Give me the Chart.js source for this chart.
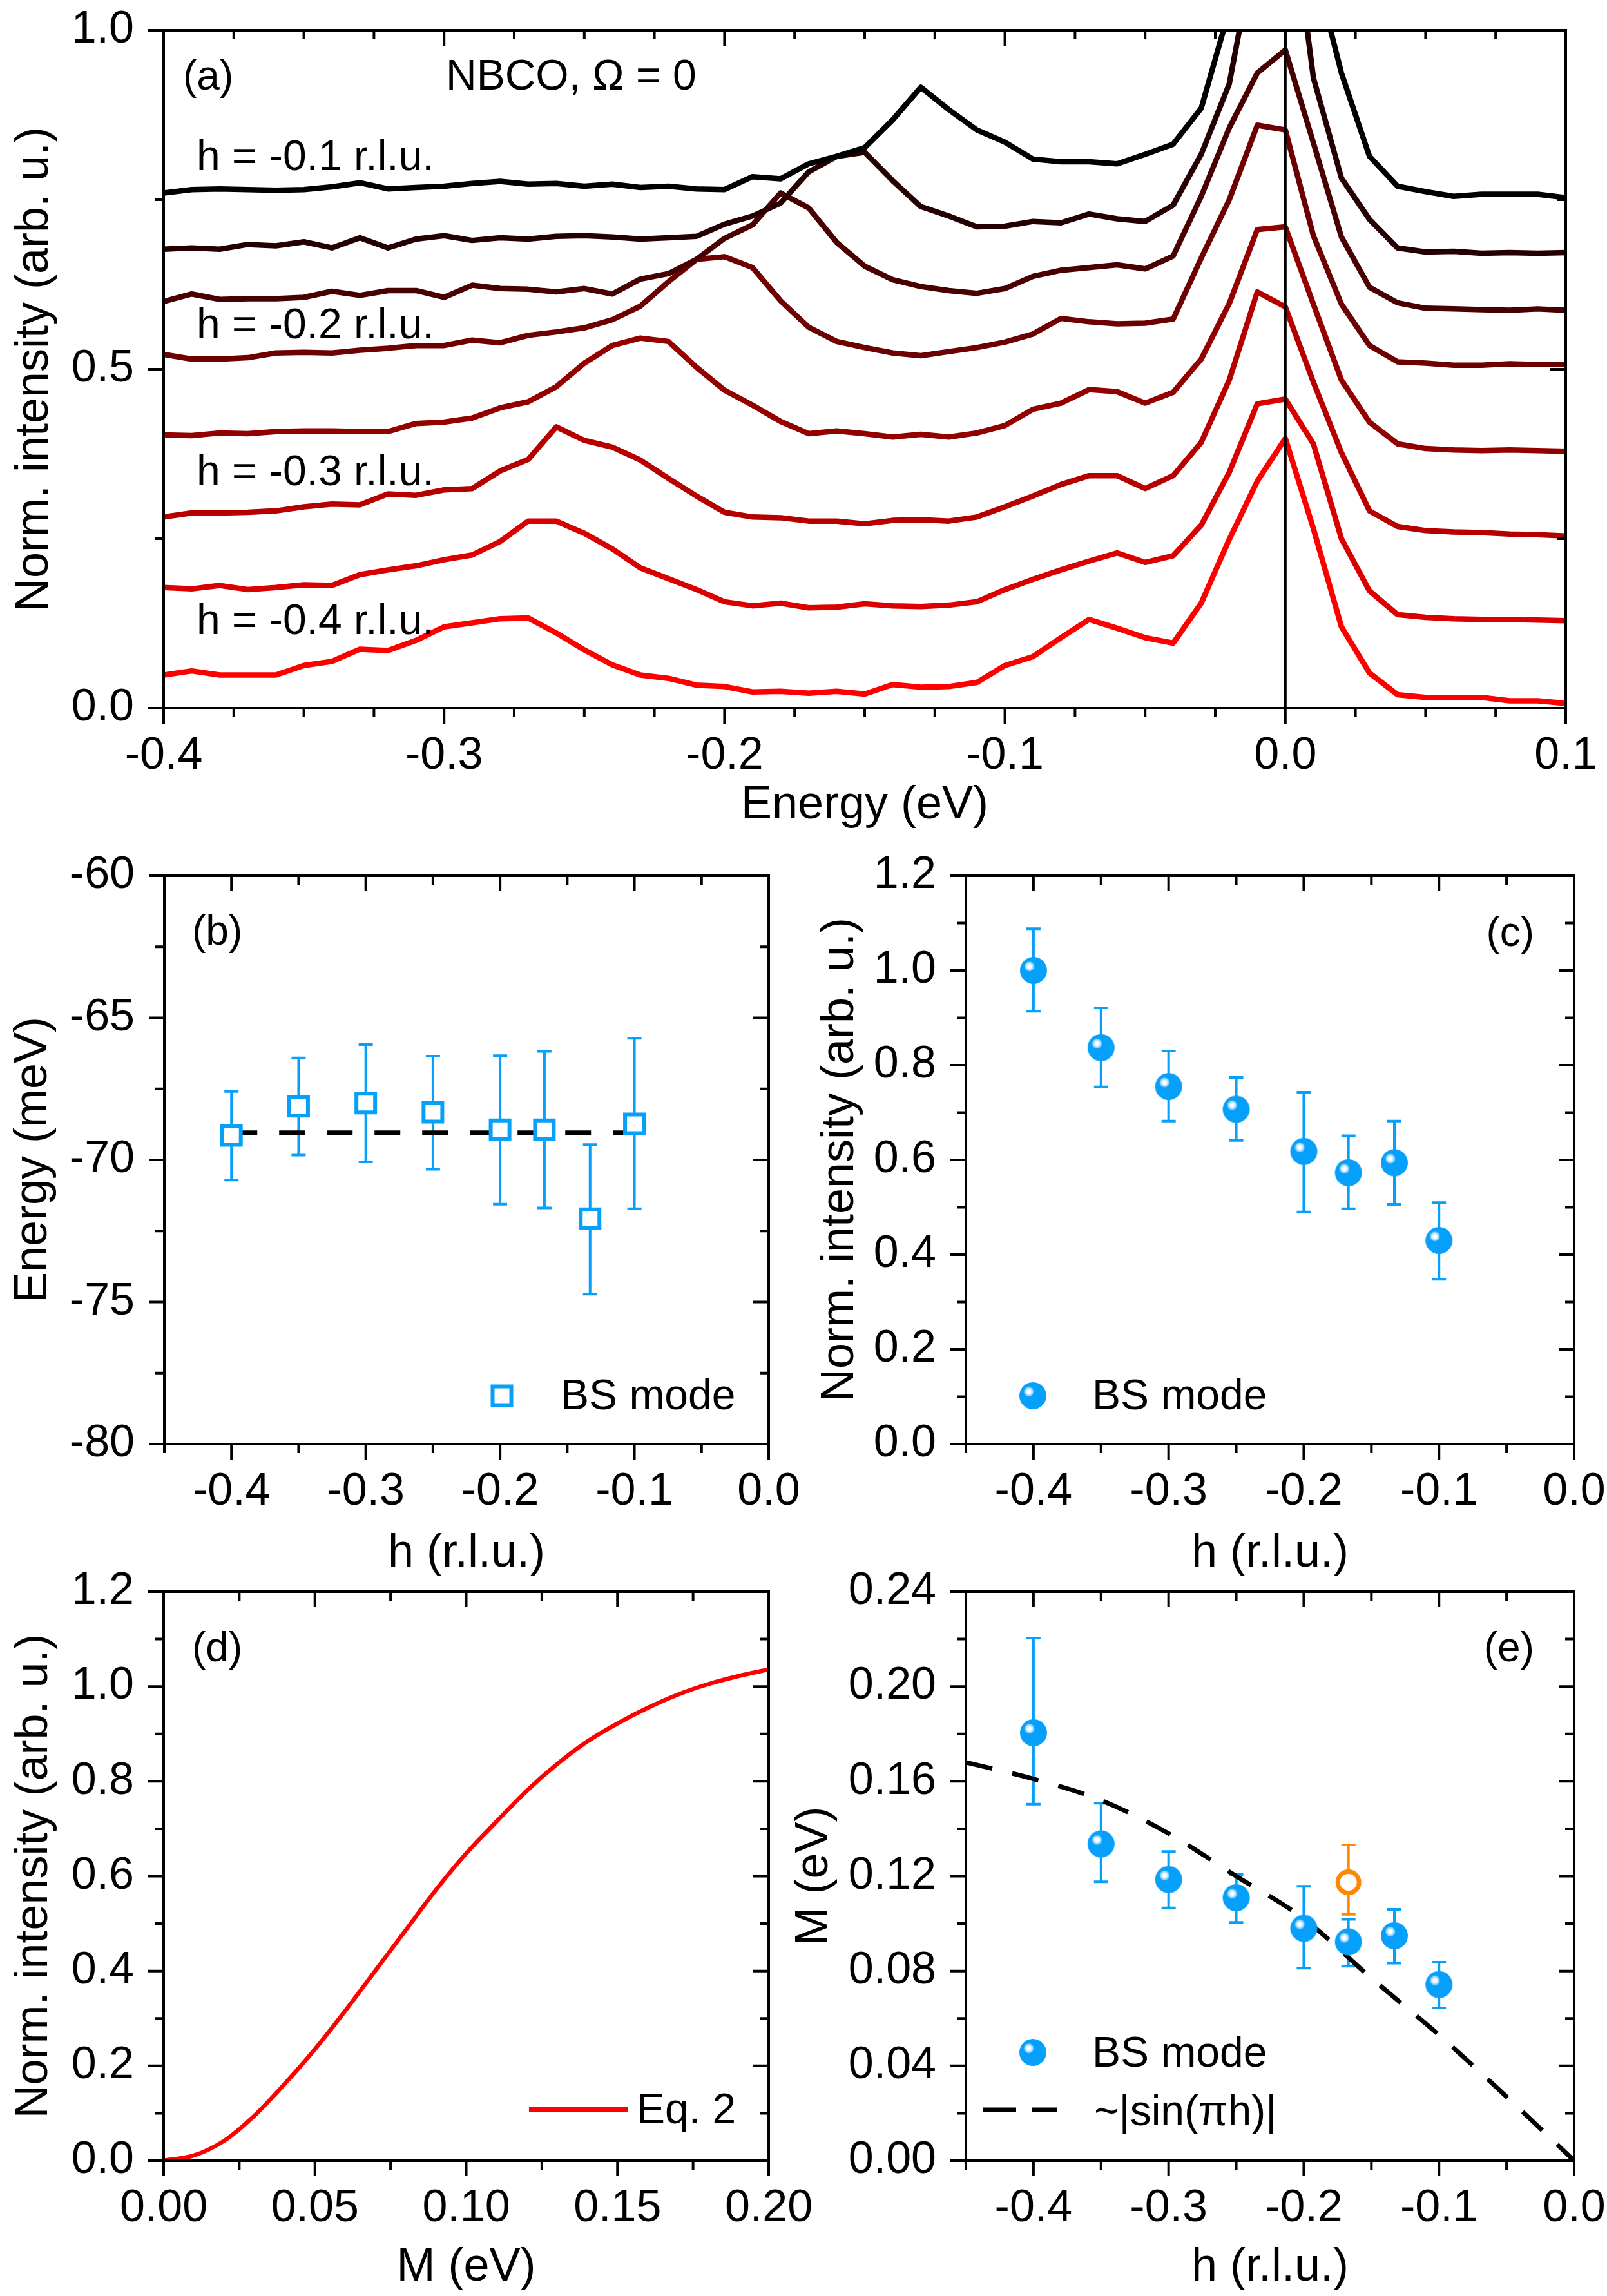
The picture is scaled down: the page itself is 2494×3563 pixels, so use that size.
<!DOCTYPE html>
<html>
<head>
<meta charset="utf-8">
<title>NBCO RIXS - BS mode</title>
<script src="https://cdn.jsdelivr.net/npm/chart.js@4.4.1/dist/chart.umd.min.js"></script>
<style>
  html, body { margin: 0; background: #fff; }
  #fig { position: relative; width: 2494px; height: 3563px; overflow: hidden; background: #fff; }
  #fig canvas { position: absolute; }
</style>
</head>
<body>
<div id="fig">
  <canvas id="panelA" width="2494" height="1310" style="left:0;top:0"></canvas>
  <canvas id="panelB" width="1300" height="1180" style="left:0;top:1300px"></canvas>
  <canvas id="panelC" width="1294" height="1180" style="left:1200px;top:1300px"></canvas>
  <canvas id="panelD" width="1300" height="1163" style="left:0;top:2400px"></canvas>
  <canvas id="panelE" width="1294" height="1163" style="left:1200px;top:2400px"></canvas>
</div>
<script>
// ---- (a) spectra, one array per momentum ----
const energyEv = [-0.40,-0.39,-0.38,-0.37,-0.36,-0.35,-0.34,-0.33,-0.32,-0.31,
  -0.30,-0.29,-0.28,-0.27,-0.26,-0.25,-0.24,-0.23,-0.22,-0.21,
  -0.20,-0.19,-0.18,-0.17,-0.16,-0.15,-0.14,-0.13,-0.12,-0.11,
  -0.10,-0.09,-0.08,-0.07,-0.06,-0.05,-0.04,-0.03,-0.02,-0.01,
  0.00,0.01,0.02,0.03,0.04,0.05,0.06,0.07,0.08,0.09,0.10];

const specH010 = [0.760,0.765,0.766,0.765,0.764,0.765,0.769,0.775,0.766,0.768,
  0.770,0.774,0.777,0.773,0.774,0.770,0.773,0.768,0.770,0.766,
  0.765,0.784,0.781,0.803,0.814,0.827,0.868,0.916,0.883,0.853,
  0.835,0.810,0.806,0.806,0.803,0.817,0.832,0.885,1.030,1.400,
  1.500,1.100,0.937,0.814,0.770,0.762,0.755,0.758,0.758,0.758,0.753];
const specH013 = [0.677,0.679,0.677,0.684,0.682,0.688,0.679,0.694,0.679,0.692,
  0.697,0.690,0.694,0.692,0.696,0.697,0.695,0.692,0.694,0.696,
  0.714,0.726,0.745,0.791,0.814,0.820,0.778,0.740,0.726,0.710,
  0.711,0.718,0.716,0.729,0.722,0.718,0.742,0.817,0.921,1.140,
  1.250,0.930,0.782,0.721,0.679,0.673,0.674,0.671,0.672,0.671,0.672];
const specH017 = [0.600,0.611,0.603,0.604,0.604,0.606,0.615,0.609,0.616,0.616,
  0.606,0.624,0.619,0.618,0.614,0.619,0.611,0.633,0.641,0.662,
  0.693,0.713,0.760,0.738,0.687,0.652,0.632,0.622,0.616,0.612,
  0.619,0.637,0.646,0.650,0.654,0.648,0.667,0.755,0.856,0.937,
  0.971,0.834,0.695,0.621,0.598,0.590,0.589,0.588,0.587,0.589,0.587];
const specH020 = [0.522,0.515,0.515,0.517,0.524,0.525,0.524,0.528,0.531,0.535,
  0.535,0.543,0.539,0.550,0.555,0.561,0.573,0.593,0.629,0.662,
  0.666,0.650,0.601,0.562,0.541,0.532,0.524,0.520,0.526,0.532,
  0.540,0.552,0.575,0.570,0.567,0.568,0.574,0.664,0.750,0.860,
  0.853,0.697,0.596,0.535,0.511,0.509,0.506,0.506,0.508,0.507,0.507];
const specH025 = [0.403,0.402,0.406,0.405,0.408,0.409,0.409,0.408,0.408,0.420,
  0.422,0.428,0.443,0.452,0.474,0.509,0.535,0.546,0.541,0.503,
  0.469,0.447,0.423,0.405,0.409,0.405,0.400,0.404,0.400,0.406,
  0.417,0.441,0.450,0.470,0.467,0.450,0.466,0.515,0.597,0.706,
  0.710,0.596,0.484,0.422,0.390,0.383,0.381,0.380,0.381,0.380,0.379];
const specH030 = [0.282,0.288,0.288,0.289,0.291,0.297,0.301,0.300,0.316,0.314,
  0.322,0.324,0.350,0.367,0.415,0.395,0.385,0.366,0.339,0.313,
  0.289,0.282,0.281,0.276,0.276,0.272,0.277,0.278,0.276,0.282,
  0.297,0.313,0.330,0.343,0.343,0.324,0.343,0.392,0.484,0.614,
  0.592,0.481,0.377,0.291,0.268,0.262,0.260,0.259,0.257,0.256,0.254];
const specH035 = [0.178,0.176,0.181,0.175,0.178,0.182,0.181,0.197,0.204,0.210,
  0.219,0.226,0.246,0.276,0.276,0.258,0.235,0.207,0.191,0.175,
  0.157,0.151,0.155,0.148,0.149,0.154,0.151,0.150,0.152,0.157,
  0.175,0.190,0.204,0.217,0.229,0.215,0.225,0.270,0.348,0.449,
  0.456,0.390,0.250,0.173,0.138,0.134,0.132,0.131,0.131,0.130,0.129];
const specH040 = [0.049,0.055,0.049,0.049,0.049,0.063,0.069,0.087,0.085,0.100,
  0.120,0.126,0.132,0.133,0.111,0.086,0.064,0.049,0.044,0.034,
  0.032,0.024,0.025,0.022,0.025,0.021,0.035,0.031,0.032,0.038,
  0.063,0.076,0.104,0.131,0.118,0.104,0.096,0.155,0.249,0.335,
  0.398,0.265,0.120,0.052,0.020,0.016,0.016,0.016,0.011,0.011,0.007];
const spectra = [specH010, specH013, specH017, specH020, specH025, specH030, specH035, specH040];
const spectrumColors = ['#000000','#240000','#490000','#6d0000','#920000','#b60000','#db0000','#ff0000'];

// ---- (b), (c), (e) BS mode vs h ----
const hValues = [-0.4, -0.35, -0.3, -0.25, -0.2, -0.167, -0.133, -0.1];
const bsEnergy   = [-69.14, -68.11, -68.00, -68.32, -68.94, -68.94, -72.07, -68.73];
const bsEnergyHi = [-67.59, -66.41, -65.94, -66.35, -66.33, -66.18, -69.46, -65.72];
const bsEnergyLo = [-70.71, -69.83, -70.07, -70.33, -71.56, -71.69, -74.72, -71.72];
const fitH = [-0.4, -0.1];
const fitEnergy = [-69.04, -69.04];

const bsIntensity   = [1.000, 0.837, 0.755, 0.707, 0.618, 0.573, 0.594, 0.430];
const bsIntensityHi = [1.088, 0.921, 0.830, 0.774, 0.743, 0.651, 0.682, 0.510];
const bsIntensityLo = [0.914, 0.754, 0.682, 0.641, 0.490, 0.497, 0.506, 0.348];

const bsM   = [0.1805, 0.1336, 0.1186, 0.1109, 0.0980, 0.0923, 0.0949, 0.0743];
const bsMHi = [0.2204, 0.1508, 0.1304, 0.1207, 0.1157, 0.1018, 0.1060, 0.0837];
const bsMLo = [0.1504, 0.1176, 0.1066, 0.1005, 0.0812, 0.0820, 0.0833, 0.0644];
const extraH = [-0.167];
const extraM = [0.1174];
const extraMHi = [0.1332];
const extraMLo = [0.1039];
const sinH = [-0.45, -0.4, -0.35, -0.3, -0.25, -0.2, -0.15, -0.1, -0.05, 0.0];
const sinM = [0.168, 0.161, 0.152, 0.138, 0.120, 0.102, 0.077, 0.053, 0.027, 0.0];

// ---- (d) Eq. 2 ----
const mGrid = [0.00,0.01,0.02,0.03,0.04,0.05,0.06,0.07,0.08,0.09,0.10,
  0.11,0.12,0.13,0.14,0.15,0.16,0.17,0.18,0.19,0.20];
const eq2Intensity = [0.000,0.011,0.042,0.095,0.162,0.235,0.316,0.401,0.486,0.571,0.648,
  0.715,0.780,0.836,0.884,0.922,0.955,0.983,1.005,1.022,1.036];

// ---- ticks ----
const energyTicks = [-0.4, -0.3, -0.2, -0.1, 0.0, 0.1];
const energyTickLabels = ['-0.4', '-0.3', '-0.2', '-0.1', '0.0', '0.1'];
const energyMinor = [-0.375, -0.35, -0.325, -0.275, -0.25, -0.225, -0.175, -0.15, -0.125,
  -0.075, -0.05, -0.025, 0.025, 0.05, 0.075];
const intensityTicksA = [0, 0.5, 1.0];
const intensityLabelsA = ['0.0', '0.5', '1.0'];
const intensityMinorA = [0.25, 0.75];

const hTicks = [-0.4, -0.3, -0.2, -0.1, 0.0];
const hTickLabels = ['-0.4', '-0.3', '-0.2', '-0.1', '0.0'];
const hMinor = [-0.45, -0.35, -0.25, -0.15, -0.05];
const mevTicks = [-80, -75, -70, -65, -60];
const mevLabels = ['-80', '-75', '-70', '-65', '-60'];
const mevMinor = [-77.5, -72.5, -67.5, -62.5];
const normTicks = [0, 0.2, 0.4, 0.6, 0.8, 1.0, 1.2];
const normLabels = ['0.0', '0.2', '0.4', '0.6', '0.8', '1.0', '1.2'];
const normMinor = [0.1, 0.3, 0.5, 0.7, 0.9, 1.1];
const mTicks = [0, 0.05, 0.10, 0.15, 0.20];
const mLabels = ['0.00', '0.05', '0.10', '0.15', '0.20'];
const mMinor = [0.025, 0.075, 0.125, 0.175];
const mTicksY = [0, 0.04, 0.08, 0.12, 0.16, 0.20, 0.24];
const mLabelsY = ['0.00', '0.04', '0.08', '0.12', '0.16', '0.20', '0.24'];
const mMinorY = [0.02, 0.06, 0.10, 0.14, 0.18, 0.22];

const FONT = '"Liberation Sans", Arial, Helvetica, sans-serif';
const BLUE = '#06a0fb';
const ORANGE = '#ff8800';
Chart.defaults.font.family = FONT;
Chart.defaults.color = '#000';
Chart.defaults.animation = false;

function makeBall(r) {
  const c = document.createElement('canvas');
  const s = Math.ceil(2 * r + 2);
  c.width = s; c.height = s;
  const g = c.getContext('2d');
  const m = s / 2;
  g.fillStyle = BLUE;
  g.beginPath(); g.arc(m, m, r, 0, Math.PI * 2); g.fill();
  const hx = m - 0.3 * r, hy = m - 0.3 * r, hr = 0.42 * r;
  const rg = g.createRadialGradient(hx, hy, 0, hx, hy, hr);
  rg.addColorStop(0, '#ffffff');
  rg.addColorStop(0.3, '#ffffff');
  rg.addColorStop(0.45, '#d4edff');
  rg.addColorStop(0.75, '#8ccfff');
  rg.addColorStop(1, 'rgba(6,160,251,0)');
  g.fillStyle = rg;
  g.beginPath(); g.arc(hx, hy, hr, 0, Math.PI * 2); g.fill();
  return c;
}
const ball = makeBall(21);

function axis(pos, min, max, ticks, labels, title, titlePad, size) {
  const horiz = pos === 'bottom';
  return {
    type: 'linear', position: pos, min: min, max: max, bounds: 'data',
    grid: { display: false, drawTicks: false },
    border: { display: false },
    ticks: {
      padding: horiz ? 40 : 46, autoSkip: false, maxRotation: 0, minRotation: 0,
      color: '#000', font: { size: 70, lineHeight: 1 },
      callback: (v, i) => labels[i]
    },
    title: {
      display: true, text: title, color: '#000', font: { size: 72, lineHeight: 1 },
      padding: horiz ? { top: 0, bottom: titlePad } : { top: titlePad, bottom: 0 }
    },
    afterBuildTicks: s => { s.ticks = ticks.map(v => ({ value: v })); },
    afterFit: s => {
      if (horiz) s.height = size; else s.width = size;
      // keep the plot area where the layout padding puts it
      s.paddingLeft = 0; s.paddingRight = 0; s.paddingTop = 0; s.paddingBottom = 0;
    }
  };
}

function drawKey(ctx, k, cx, cy) {
  ctx.save();
  if (k.kind === 'square') {
    ctx.fillStyle = '#fff'; ctx.strokeStyle = BLUE; ctx.lineWidth = 6;
    ctx.fillRect(cx - 14.5, cy - 14.5, 29, 29);
    ctx.strokeRect(cx - 14.5, cy - 14.5, 29, 29);
  } else if (k.kind === 'ball') {
    ctx.drawImage(ball, cx - ball.width / 2, cy - ball.height / 2);
  } else {
    ctx.strokeStyle = k.color; ctx.lineWidth = k.width;
    ctx.setLineDash(k.dash || []);
    ctx.beginPath(); ctx.moveTo(cx, cy); ctx.lineTo(cx + k.len, cy); ctx.stroke();
  }
  ctx.restore();
}

// frame, ticks on all four sides, error bars, labels and hand-made legend
function decor(spec) {
  return {
    id: 'decor',
    beforeDatasetsDraw(chart) {
      const { ctx, scales: { x, y } } = chart;
      (spec.errors || []).forEach(e => {
        ctx.save();
        ctx.strokeStyle = e.color; ctx.lineWidth = 4;
        ctx.beginPath();
        e.x.forEach((xv, i) => {
          const px = x.getPixelForValue(xv);
          const top = y.getPixelForValue(e.hi[i]);
          const bot = y.getPixelForValue(e.lo[i]);
          ctx.moveTo(px, top); ctx.lineTo(px, bot);
          ctx.moveTo(px - 11, top); ctx.lineTo(px + 11, top);
          ctx.moveTo(px - 11, bot); ctx.lineTo(px + 11, bot);
        });
        ctx.stroke();
        ctx.restore();
      });
    },
    afterDatasetsDraw(chart) {
      if (spec.vline === undefined) return;
      const { ctx, chartArea: a, scales: { x } } = chart;
      const px = x.getPixelForValue(spec.vline);
      ctx.save();
      ctx.strokeStyle = '#000'; ctx.lineWidth = 4;
      ctx.beginPath(); ctx.moveTo(px, a.top); ctx.lineTo(px, a.bottom); ctx.stroke();
      ctx.restore();
    },
    afterDraw(chart) {
      const { ctx, chartArea: a, scales: { x, y } } = chart;
      const MAJ = 24, MIN = 14;
      ctx.save();
      ctx.strokeStyle = '#000'; ctx.lineWidth = 4; ctx.lineCap = 'butt';
      ctx.beginPath();
      const xt = (vals, len) => vals.forEach(v => {
        const p = x.getPixelForValue(v);
        ctx.moveTo(p, a.bottom); ctx.lineTo(p, a.bottom + len);
        ctx.moveTo(p, a.top); ctx.lineTo(p, a.top + len);
      });
      const yt = (vals, len) => vals.forEach(v => {
        const p = y.getPixelForValue(v);
        ctx.moveTo(a.left - len, p); ctx.lineTo(a.left, p);
        ctx.moveTo(a.right - len, p); ctx.lineTo(a.right, p);
      });
      xt(spec.xMajor, MAJ); xt(spec.xMinor, MIN);
      yt(spec.yMajor, MAJ); yt(spec.yMinor, MIN);
      ctx.stroke();
      ctx.strokeRect(a.left, a.top, a.right - a.left, a.bottom - a.top);
      ctx.fillStyle = '#000';
      ctx.textBaseline = 'alphabetic';
      spec.texts.forEach(t => {
        ctx.font = t.size + 'px ' + FONT;
        ctx.textAlign = t.align || 'left';
        ctx.fillText(t.text, a.left + t.dx, a.top + t.dy);
      });
      (spec.keys || []).forEach(k => drawKey(ctx, k, a.left + k.dx, a.top + k.dy));
      ctx.restore();
    }
  };
}

function baseOptions(pad, xAxis, yAxis) {
  return {
    responsive: false, animation: false, events: [], devicePixelRatio: 1,
    layout: { padding: pad },
    scales: { x: xAxis, y: yAxis },
    plugins: { legend: { display: false }, tooltip: { enabled: false } }
  };
}
const pts = (xs, ys) => xs.map((v, i) => ({ x: v, y: ys[i] }));

// (a)
new Chart(document.getElementById('panelA'), {
  type: 'scatter',
  data: {
    datasets: spectra.map((s, i) => ({
      data: pts(energyEv, s), showLine: true, borderColor: spectrumColors[i],
      borderWidth: 8.5, borderJoinStyle: 'round', pointRadius: 0, clip: 0
    }))
  },
  options: baseOptions({ left: 0, top: 47, right: 64, bottom: 0 },
    axis('bottom', -0.4, 0.1, energyTicks, energyTickLabels, 'Energy (eV)', 24, 211),
    axis('left', 0, 1, intensityTicksA, intensityLabelsA, 'Norm. intensity (arb. u.)', 18, 254)),
  plugins: [decor({
    xMajor: energyTicks, xMinor: energyMinor, yMajor: intensityTicksA, yMinor: intensityMinorA,
    vline: 0,
    texts: [
      { text: '(a)', dx: 30, dy: 92, size: 64 },
      { text: 'NBCO, \u03A9 = 0', dx: 438, dy: 92, size: 66 },
      { text: 'h = -0.1 r.l.u.', dx: 51, dy: 217, size: 66 },
      { text: 'h = -0.2 r.l.u.', dx: 51, dy: 478, size: 66 },
      { text: 'h = -0.3 r.l.u.', dx: 51, dy: 706, size: 66 },
      { text: 'h = -0.4 r.l.u.', dx: 51, dy: 937, size: 66 }
    ]
  })]
});

// (b)
new Chart(document.getElementById('panelB'), {
  type: 'scatter',
  data: {
    datasets: [
      { data: pts(hValues, bsEnergy), pointStyle: 'rect', pointRadius: 20.5, pointBorderWidth: 6,
        pointBorderColor: BLUE, pointBackgroundColor: '#fff' },
      { data: pts(fitH, fitEnergy), showLine: true, borderColor: '#000', borderWidth: 7,
        borderDash: [40, 34], pointRadius: 0 }
    ]
  },
  options: baseOptions({ left: 0, top: 59, right: 107, bottom: 0 },
    axis('bottom', -0.45, 0, hTicks, hTickLabels, 'h (r.l.u.)', 33, 239),
    axis('left', -80, -60, mevTicks, mevLabels, 'Energy (meV)', 16, 255)),
  plugins: [decor({
    xMajor: hTicks, xMinor: hMinor, yMajor: mevTicks, yMinor: mevMinor,
    errors: [{ x: hValues, hi: bsEnergyHi, lo: bsEnergyLo, color: BLUE }],
    texts: [
      { text: '(b)', dx: 43, dy: 107, size: 64 },
      { text: 'BS mode', dx: 615, dy: 828, size: 66 }
    ],
    keys: [{ kind: 'square', dx: 524, dy: 807 }]
  })]
});

// (c)
new Chart(document.getElementById('panelC'), {
  type: 'scatter',
  data: {
    datasets: [
      { data: pts(hValues, bsIntensity), pointStyle: ball, pointRadius: 21 }
    ]
  },
  options: baseOptions({ left: 0, top: 59, right: 51, bottom: 0 },
    axis('bottom', -0.45, 0, hTicks, hTickLabels, 'h (r.l.u.)', 33, 239),
    axis('left', 0, 1.2, normTicks, normLabels, 'Norm. intensity (arb. u.)', 68, 299)),
  plugins: [decor({
    xMajor: hTicks, xMinor: hMinor, yMajor: normTicks, yMinor: normMinor,
    errors: [{ x: hValues, hi: bsIntensityHi, lo: bsIntensityLo, color: BLUE }],
    texts: [
      { text: '(c)', dx: 882, dy: 109, size: 64, align: 'right' },
      { text: 'BS mode', dx: 196, dy: 828, size: 66 }
    ],
    keys: [{ kind: 'ball', dx: 104, dy: 807 }]
  })]
});

// (d)
new Chart(document.getElementById('panelD'), {
  type: 'scatter',
  data: {
    datasets: [
      { data: pts(mGrid, eq2Intensity), showLine: true, borderColor: '#ff0000', borderWidth: 6.5,
        pointRadius: 0, cubicInterpolationMode: 'monotone' }
    ]
  },
  options: baseOptions({ left: 0, top: 70, right: 107, bottom: 0 },
    axis('bottom', 0, 0.2, mTicks, mLabels, 'M (eV)', 8, 210),
    axis('left', 0, 1.2, normTicks, normLabels, 'Norm. intensity (arb. u.)', 17, 254)),
  plugins: [decor({
    xMajor: mTicks, xMinor: mMinor, yMajor: normTicks, yMinor: normMinor,
    texts: [
      { text: '(d)', dx: 44, dy: 108, size: 64 },
      { text: 'Eq. 2', dx: 734, dy: 825, size: 66 }
    ],
    keys: [{ kind: 'line', dx: 567, dy: 804, len: 153, color: '#ff0000', width: 8 }]
  })]
});

// (e)
new Chart(document.getElementById('panelE'), {
  type: 'scatter',
  data: {
    datasets: [
      { data: pts(hValues, bsM), pointStyle: ball, pointRadius: 21 },
      { data: pts(extraH, extraM), pointStyle: 'circle', pointRadius: 16.5, pointBorderWidth: 7,
        pointBorderColor: ORANGE, pointBackgroundColor: '#fff' },
      { data: pts(sinH, sinM), showLine: true, borderColor: '#000', borderWidth: 7,
        borderDash: [42, 32], pointRadius: 0, cubicInterpolationMode: 'monotone' }
    ]
  },
  options: baseOptions({ left: 0, top: 70, right: 51, bottom: 0 },
    axis('bottom', -0.45, 0, hTicks, hTickLabels, 'h (r.l.u.)', 8, 210),
    axis('left', 0, 0.24, mTicksY, mLabelsY, 'M (eV)', 28, 299)),
  plugins: [decor({
    xMajor: hTicks, xMinor: hMinor, yMajor: mTicksY, yMinor: mMinorY,
    errors: [
      { x: hValues, hi: bsMHi, lo: bsMLo, color: BLUE },
      { x: extraH, hi: extraMHi, lo: extraMLo, color: ORANGE }
    ],
    texts: [
      { text: '(e)', dx: 882, dy: 108, size: 64, align: 'right' },
      { text: 'BS mode', dx: 196, dy: 737, size: 66 },
      { text: '~|sin(\u03C0h)|', dx: 199, dy: 828, size: 66 }
    ],
    keys: [
      { kind: 'ball', dx: 104, dy: 715 },
      { kind: 'line', dx: 26, dy: 804, len: 116, color: '#000', width: 7, dash: [52, 24] }
    ]
  })]
});
</script>
</body>
</html>
